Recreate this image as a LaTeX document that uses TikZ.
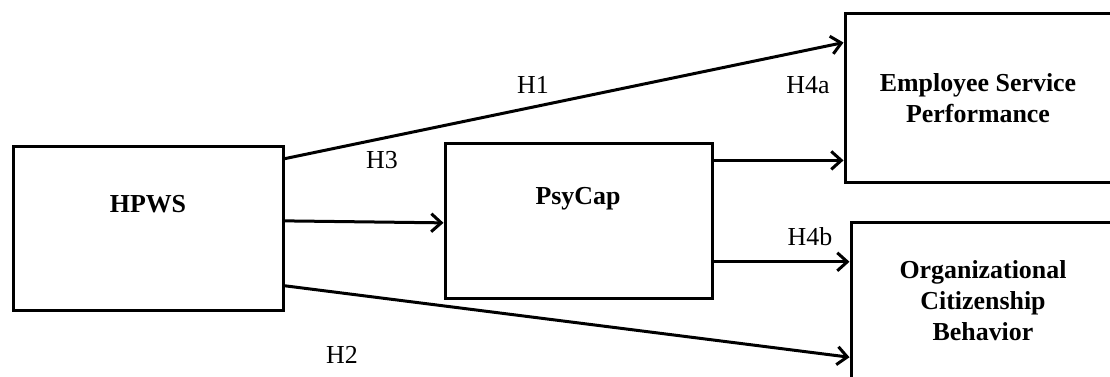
\documentclass[tikz,border=0pt]{standalone}
\usepackage{fontspec}
\setmainfont{Liberation Serif}
\usetikzlibrary{arrows.meta}

\tikzset{
  box/.style={draw,line width=3bp,inner sep=0pt},
  boxtext/.style={font=\fontsize{26}{31}\selectfont\bfseries,align=center},
  hyp/.style={font=\fontsize{26}{31}\selectfont},
  link/.style={line width=3bp,-{Straight Barb[length=10bp,width=18bp,line width=3bp]}}
}

\begin{document}
\begin{tikzpicture}[x=1bp,y=-1bp]
            		\useasboundingbox (0,0) rectangle (1110,376);
            		\clip (0,0) rectangle (1110,376);

            		% boxes
            		\node (hpws) at (148.5,228) [box,minimum width=269bp,minimum height=164bp] {};
            		\node (psycap) at (578.5,220.5) [box,minimum width=267bp,minimum height=155bp] {};
            		\node (esp) at (979.5,97.5) [box,minimum width=269bp,minimum height=169bp] {};
            		\node (ocb) at (982.5,303.5) [box,minimum width=263bp,minimum height=163bp] {};

            		\node (hpwstxt) at (148,204) [boxtext] {HPWS};
            		\node (psycaptxt) at (578,199) [boxtext] {PsyCap};
            		\node (esptxt) at (978,98) [boxtext] {Employee Service\\Performance};
            		\node (ocbtxt) at (983,301) [boxtext] {Organizational\\Citizenship\\Behavior};

            		% paths
            		\draw[link] (hpws.27.8) -- (esp.158.3);
            		\draw[link] (hpws.3) -- (psycap.181.5);
            		\draw[link] (hpws.-23) -- (ocb.202.1);
            		\draw[link] (psycap.24.4) -- (psycap.24.4 -| esp.west);
            		\draw[link] (psycap.-17.3) -- (psycap.-17.3 -| ocb.west);

            		\node (h1) at (533,85) [hyp] {H1};
            		\node (h2) at (342,355) [hyp] {H2};
            		\node (h3) at (382,160) [hyp] {H3};
            		\node (h4a) at (808,85) [hyp] {H4a};
            		\node (h4b) at (810,237) [hyp] {H4b};

        		\end{tikzpicture}
\end{document}
